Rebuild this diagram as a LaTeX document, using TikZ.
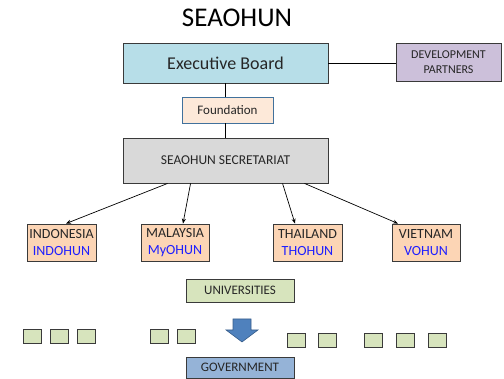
\documentclass[tikz,border=0pt]{standalone}
\usepackage{fontspec}
\setmainfont{Carlito}
\usetikzlibrary{arrows.meta}
\definecolor{ebfill}{HTML}{B7DEE8}
\definecolor{dpfill}{HTML}{CCC0DA}
\definecolor{fdfill}{HTML}{FDE9D9}
\definecolor{fdline}{HTML}{41719C}
\definecolor{secfill}{HTML}{D9D9D9}
\definecolor{ctfill}{HTML}{FCD5B5}
\definecolor{unfill}{HTML}{D7E4BD}
\definecolor{gvfill}{HTML}{95B3D7}
\definecolor{arfill}{HTML}{4F81BD}
\definecolor{arline}{HTML}{385D8A}
\definecolor{boxline}{HTML}{3A3A3A}
\definecolor{hunblue}{HTML}{1F1FFF}
\tikzset{
  boxbase/.style={draw=boxline, line width=0.9pt, inner sep=0pt, align=center, text=black!85},
  ctbox/.style={boxbase, fill=ctfill, minimum width=69pt, minimum height=37pt, font=\fontsize{14}{17}\selectfont},
  sq/.style={boxbase, fill=unfill, minimum width=18pt, minimum height=14pt},
  conn/.style={draw=black, line width=0.7pt},
  arr/.style={conn, -{Stealth[length=5pt,width=4pt]}}
}
\begin{document}
\begin{tikzpicture}[x=1pt,y=-1pt]
\useasboundingbox (0,0) rectangle (504,379);
\node (title) at (237,18) {\fontsize{27}{30}\selectfont SEAOHUN};
\node[boxbase, fill=ebfill, minimum width=205pt, minimum height=40pt, font=\fontsize{18}{21}\selectfont] (EB) at (225.5,63) {Executive Board};
\node[boxbase, fill=dpfill, minimum width=105pt, minimum height=38pt, font=\fontsize{12}{15}\selectfont] (DP) at (448.5,62) {DEVELOPMENT\\PARTNERS};
\node[boxbase, draw=fdline, fill=fdfill, minimum width=91pt, minimum height=26pt, font=\fontsize{13}{15}\selectfont] (FD) at (227.5,110) {Foundation};
\node[boxbase, fill=secfill, minimum width=205pt, minimum height=45pt, font=\fontsize{13.5}{15}\selectfont] (SEC) at (225.5,160.5) {SEAOHUN SECRETARIAT};
\node[ctbox] (ID) at (61.5,242.5) {INDONESIA\\\textcolor{hunblue}{INDOHUN}};
\node[ctbox, minimum width=68pt] (MY) at (175,242.5) {MALAYSIA\\\textcolor{hunblue}{MyOHUN}};
\node[ctbox] (TH) at (307.5,242.5) {THAILAND\\\textcolor{hunblue}{THOHUN}};
\node[ctbox, minimum width=68pt] (VN) at (426,242.5) {VIETNAM\\\textcolor{hunblue}{VOHUN}};
\node[boxbase, fill=unfill, minimum width=108pt, minimum height=23pt, font=\fontsize{13}{15}\selectfont] (UN) at (240,290.5) {UNIVERSITIES};
\node[boxbase, fill=gvfill, minimum width=108pt, minimum height=21pt, font=\fontsize{13}{15}\selectfont] (GV) at (240,367.5) {GOVERNMENT};
% small squares
\node[sq] (s1) at (32,336) {};
\node[sq] (s2) at (59,336) {};
\node[sq] (s3) at (86.5,336) {};
\node[sq] (s4) at (159,336) {};
\node[sq] (s5) at (186.5,336) {};
\node[sq] (s6) at (296,340) {};
\node[sq] (s7) at (327.5,340) {};
\node[sq] (s8) at (373,340) {};
\node[sq] (s9) at (405,340) {};
\node[sq] (s10) at (437,340) {};
% block arrow
\draw[fill=arfill, draw=arline, line width=0.6pt] (233,319) -- (251,319) -- (251,330) -- (258,330) -- (242,342) -- (226,330) -- (233,330) -- cycle;
% connectors
\draw[conn] (EB.east) -- (DP.west |- EB.east);
\draw[conn] ([xshift=-0.5pt]EB.south) -- ([xshift=-0.5pt]EB.south |- FD.north);
\draw[conn] ([xshift=-2pt]FD.south) -- ([xshift=-2pt]FD.south |- SEC.north);
\draw[arr] ([xshift=45pt]SEC.south west) -- ([xshift=4.5pt]ID.north);
\draw[arr] ([xshift=68pt]SEC.south west) -- ([xshift=8pt]MY.north);
\draw[arr] ([xshift=160pt]SEC.south west) -- ([xshift=-12.5pt]TH.north);
\draw[arr] ([xshift=182pt]SEC.south west) -- ([xshift=-28pt]VN.north);
\end{tikzpicture}
\end{document}
